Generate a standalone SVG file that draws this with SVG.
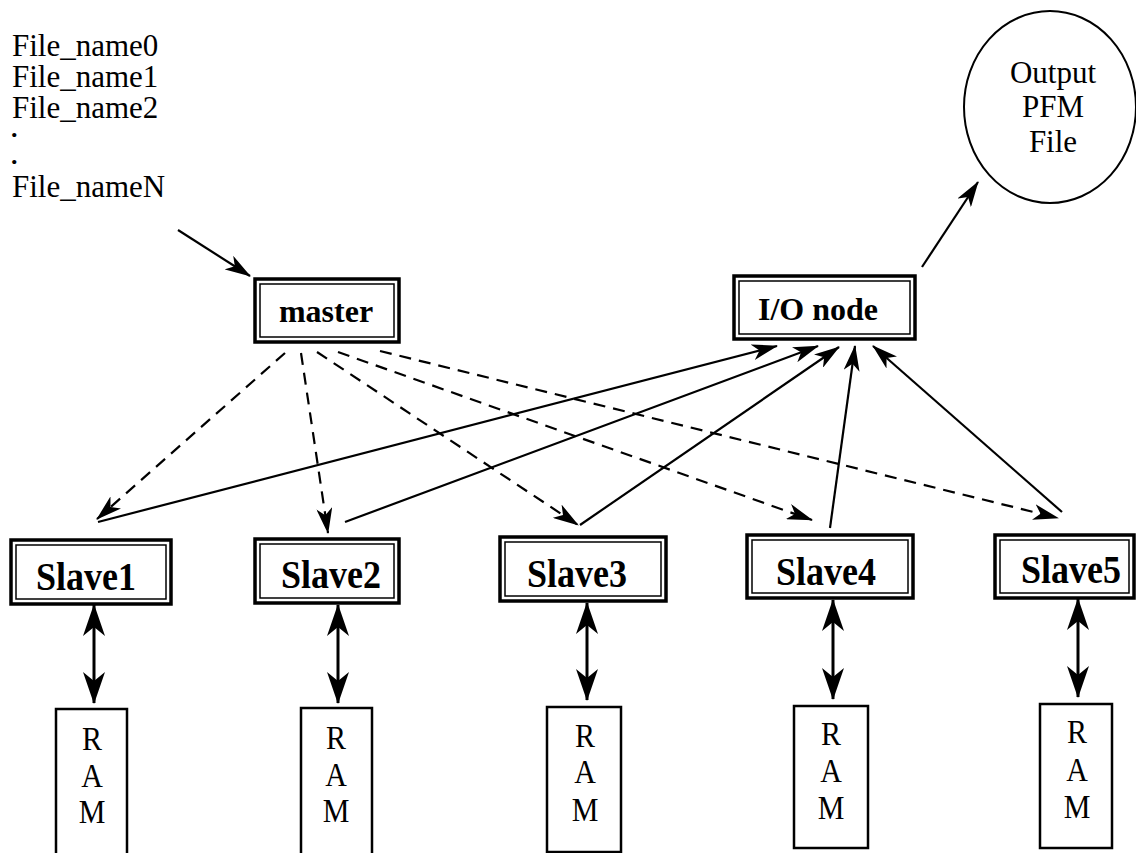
<svg xmlns="http://www.w3.org/2000/svg" width="1136" height="853" viewBox="0 0 1136 853">
<style>
.t{font-family:"Liberation Serif","Times New Roman",serif;fill:#000}
.reg{font-size:31px}
.dot{font-size:26px;font-weight:bold}
.lab{font-size:32px;font-weight:bold;text-anchor:middle}
.slv{font-size:36px;font-weight:bold;text-anchor:middle}
.ram{font-size:30px;text-anchor:middle}
.out{font-size:31px;text-anchor:middle}
.ob{fill:#fff;stroke:#000;stroke-width:3.5}
.ib{fill:none;stroke:#000;stroke-width:1.5}
.rb{fill:#fff;stroke:#000;stroke-width:2.5}
.sl{fill:none;stroke:#000;stroke-width:2.2}
.dl{fill:none;stroke:#000;stroke-width:2.2;stroke-dasharray:12 8}
.bl{fill:none;stroke:#000;stroke-width:3}
</style>
<defs>
<marker id="ah" markerUnits="userSpaceOnUse" viewBox="0 0 26 16" refX="25" refY="8" markerWidth="26" markerHeight="16" orient="auto">
<path d="M0,0 L26,8 L0,16 L7,8 z" fill="#000"/>
</marker>
<marker id="bh" markerUnits="userSpaceOnUse" viewBox="0 0 32 22" refX="31" refY="11" markerWidth="32" markerHeight="22" orient="auto-start-reverse">
<path d="M0,0 L32,11 L0,22 L9,11 z" fill="#000"/>
</marker>
</defs>

<g id="filelist">
<text class="t reg" x="12" y="56">File_name0</text>
<text class="t reg" x="12" y="87">File_name1</text>
<text class="t reg" x="12" y="118">File_name2</text>
<text class="t dot" x="11" y="137">.</text>
<text class="t dot" x="11" y="164">.</text>
<text class="t reg" x="12" y="197">File_nameN</text>
</g>

<g id="output">
<ellipse cx="1050" cy="107" rx="86" ry="96" fill="#fff" stroke="#000" stroke-width="2"/>
<text class="t out" x="1053" y="83">Output</text>
<text class="t out" x="1053" y="117">PFM</text>
<text class="t out" x="1053" y="152">File</text>
</g>

<g id="master">
<rect class="ob" x="255" y="279" width="144" height="63"/>
<rect class="ib" x="260" y="284" width="134" height="53"/>
<text class="t lab" x="326" y="322">master</text>
</g>

<g id="ionode">
<rect class="ob" x="734" y="276" width="181" height="63"/>
<rect class="ib" x="739" y="281" width="171" height="53"/>
<text class="t lab" x="818" y="320">I/O node</text>
</g>

<g id="slave1">
<rect class="ob" x="11" y="540" width="160" height="64"/>
<rect class="ib" x="16" y="545" width="150" height="54"/>
<text class="t slv" transform="translate(86,590) scale(1,1.1)">Slave1</text>
</g>
<g id="slave2">
<rect class="ob" x="255" y="539" width="144" height="64"/>
<rect class="ib" x="260" y="544" width="134" height="54"/>
<text class="t slv" transform="translate(331,588) scale(1,1.1)">Slave2</text>
</g>
<g id="slave3">
<rect class="ob" x="500" y="537" width="166" height="64"/>
<rect class="ib" x="505" y="542" width="156" height="54"/>
<text class="t slv" transform="translate(577,587) scale(1,1.1)">Slave3</text>
</g>
<g id="slave4">
<rect class="ob" x="747" y="535" width="166" height="63"/>
<rect class="ib" x="752" y="540" width="156" height="53"/>
<text class="t slv" transform="translate(826,585) scale(1,1.1)">Slave4</text>
</g>
<g id="slave5">
<rect class="ob" x="995" y="535" width="139" height="63"/>
<rect class="ib" x="1000" y="540" width="129" height="53"/>
<text class="t slv" transform="translate(1071,583) scale(1,1.1)">Slave5</text>
</g>

<g id="ram1">
<rect class="rb" x="56" y="709" width="71" height="150"/>
<text class="t ram" transform="translate(92,750) scale(1,1.1)">R</text>
<text class="t ram" transform="translate(92,787) scale(1,1.1)">A</text>
<text class="t ram" transform="translate(92,823) scale(1,1.1)">M</text>
</g>
<g id="ram2">
<rect class="rb" x="301" y="708" width="71" height="150"/>
<text class="t ram" transform="translate(336,749) scale(1,1.1)">R</text>
<text class="t ram" transform="translate(336,786) scale(1,1.1)">A</text>
<text class="t ram" transform="translate(336,822) scale(1,1.1)">M</text>
</g>
<g id="ram3">
<rect class="rb" x="547" y="707" width="74" height="145"/>
<text class="t ram" transform="translate(585,747) scale(1,1.1)">R</text>
<text class="t ram" transform="translate(585,783) scale(1,1.1)">A</text>
<text class="t ram" transform="translate(585,821) scale(1,1.1)">M</text>
</g>
<g id="ram4">
<rect class="rb" x="794" y="706" width="74" height="142"/>
<text class="t ram" transform="translate(831,745) scale(1,1.1)">R</text>
<text class="t ram" transform="translate(831,782) scale(1,1.1)">A</text>
<text class="t ram" transform="translate(831,819) scale(1,1.1)">M</text>
</g>
<g id="ram5">
<rect class="rb" x="1040" y="704" width="72" height="144"/>
<text class="t ram" transform="translate(1077,743) scale(1,1.1)">R</text>
<text class="t ram" transform="translate(1077,781) scale(1,1.1)">A</text>
<text class="t ram" transform="translate(1077,818) scale(1,1.1)">M</text>
</g>

<g id="connectors">
<line class="sl" x1="178" y1="230" x2="250" y2="276" marker-end="url(#ah)"/>
<line class="sl" x1="922" y1="267" x2="978" y2="182" marker-end="url(#ah)"/>

<line class="dl" x1="285" y1="353" x2="97" y2="519" marker-end="url(#ah)"/>
<line class="dl" x1="301" y1="353" x2="328" y2="533" marker-end="url(#ah)"/>
<line class="dl" x1="317" y1="352" x2="578" y2="525" marker-end="url(#ah)"/>
<line class="dl" x1="338" y1="352" x2="812" y2="520" marker-end="url(#ah)"/>
<line class="dl" x1="380" y1="351" x2="1058" y2="518" marker-end="url(#ah)"/>

<line class="sl" x1="98" y1="522" x2="777" y2="346" marker-end="url(#ah)"/>
<line class="sl" x1="345" y1="522" x2="818" y2="346" marker-end="url(#ah)"/>
<line class="sl" x1="580" y1="525" x2="839" y2="347" marker-end="url(#ah)"/>
<line class="sl" x1="830" y1="528" x2="855" y2="346" marker-end="url(#ah)"/>
<line class="sl" x1="1062" y1="512" x2="873" y2="346" marker-end="url(#ah)"/>

<line class="bl" x1="94" y1="605" x2="94" y2="703" marker-start="url(#bh)" marker-end="url(#bh)"/>
<line class="bl" x1="338" y1="605" x2="338" y2="703" marker-start="url(#bh)" marker-end="url(#bh)"/>
<line class="bl" x1="587" y1="603" x2="587" y2="700" marker-start="url(#bh)" marker-end="url(#bh)"/>
<line class="bl" x1="833" y1="600" x2="833" y2="699" marker-start="url(#bh)" marker-end="url(#bh)"/>
<line class="bl" x1="1078" y1="599" x2="1078" y2="697" marker-start="url(#bh)" marker-end="url(#bh)"/>
</g>
</svg>
